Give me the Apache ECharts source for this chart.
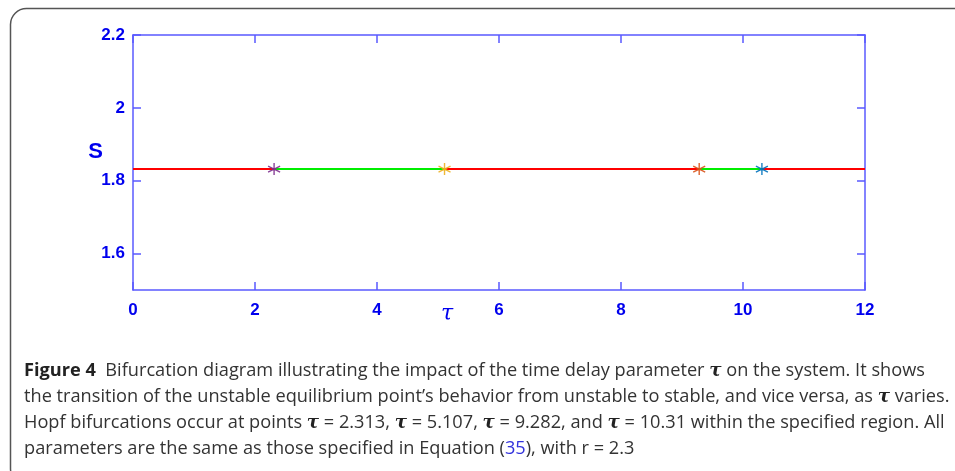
<!DOCTYPE html>
<html>
<head>
<meta charset="utf-8">
<script src="https://cdn.jsdelivr.net/npm/echarts@6/dist/echarts.min.js"></script>
<style>html,body{margin:0;padding:0;background:#fff;}#c{width:955px;height:471px;}</style>
</head>
<body>
<div id="c"></div>
<script>
// ---- data ----
const tauBreaks = [0, 2.313, 5.107, 9.282, 10.31, 12];
const segmentStates = ['unstable', 'stable', 'unstable', 'stable', 'unstable'];
const equilibriumS = 1.832;
const hopfTaus = [2.313, 5.107, 9.282, 10.31];
const xTicks = [0, 2, 4, 6, 8, 10, 12];
const yTicks = [1.6, 1.8, 2, 2.2];
const captionLines = [
  '{b|Figure 4}  Bifurcation diagram illustrating the impact of the time delay parameter {t|τ} on the system. It shows',
  'the transition of the unstable equilibrium point’s behavior from unstable to stable, and vice versa, as {t|τ} varies.',
  'Hopf bifurcations occur at points {t|τ} = 2.313, {t|τ} = 5.107, {t|τ} = 9.282, and {t|τ} = 10.31 within the specified region. All',
  'parameters are the same as those specified in Equation ({l|35}), with r = 2.3'
];

// ---- styles ----
const stateColor = { unstable: '#ff0000', stable: '#00ee00' };
const hopfColors = ['#7e2f8e', '#edb120', '#d95319', '#0072bd'];
const axisBlue = '#5a5aff';
const labelBlue = '#0000ee';
const asterisk = 'path://M0,-1L0,1M-0.866,-0.5L0.866,0.5M-0.866,0.5L0.866,-0.5';

const series = [];
for (let i = 0; i < segmentStates.length; i++) {
  series.push({
    type: 'line',
    xAxisIndex: 0, yAxisIndex: 0,
    data: [[tauBreaks[i], equilibriumS], [tauBreaks[i + 1], equilibriumS]],
    showSymbol: false,
    silent: true,
    lineStyle: { color: stateColor[segmentStates[i]], width: 2 },
    z: 2
  });
}
hopfTaus.forEach((t, i) => {
  series.push({
    type: 'scatter',
    data: [[t, equilibriumS]],
    symbol: asterisk,
    symbolSize: 12,
    itemStyle: { color: hopfColors[i], borderColor: hopfColors[i], borderWidth: 1.4, opacity: 0.9 },
    z: 5
  });
});

const tickLabelStyle = { color: labelBlue, fontFamily: 'Liberation Sans', fontWeight: 'bold', fontSize: 17 };

const graphics = [{
  type: 'rect', left: 8, top: 6, silent: true,
  shape: { width: 1100, height: 476, r: 16 },
  style: { fill: 'none', stroke: '#555', lineWidth: 1.5 }
}];
const capFont = 'Open Sans';
const capSize = 18.2;
captionLines.forEach((line, i) => {
  graphics.push({
    type: 'text', x: 24, y: 371 + i * 26, silent: true,
    style: {
      text: line, verticalAlign: 'middle',
      fontFamily: capFont, fontSize: capSize, fill: '#333',
      rich: {
        b: { fontFamily: capFont, fontWeight: 'bold', fontSize: capSize, fill: '#222' },
        t: { fontFamily: 'DejaVu Serif', fontStyle: 'italic', fontWeight: 'bold', fontSize: capSize, fill: '#222' },
        l: { fontFamily: capFont, fontSize: capSize, fill: '#3333dd' }
      }
    }
  });
});

const chart = echarts.init(document.getElementById('c'), null, { renderer: 'canvas' });
chart.setOption({
  animation: false,
  backgroundColor: '#fff',
  grid: { left: 133, right: 90, top: 35, bottom: 181, containLabel: false },
  xAxis: [{
    type: 'value', min: 0, max: 12, interval: 2, position: 'bottom',
    name: 'τ', nameLocation: 'middle', nameGap: 13, nameMoveOverlap: false,
    nameTextStyle: { color: labelBlue, fontFamily: 'DejaVu Serif', fontStyle: 'italic', fontSize: 22, padding: [0, 104, 0, 0] },
    axisLine: { onZero: false, lineStyle: { color: axisBlue, width: 1.5 } },
    axisTick: { inside: true, length: 8, lineStyle: { color: axisBlue, width: 1.5 } },
    axisLabel: Object.assign({ margin: 12 }, tickLabelStyle),
    splitLine: { show: false }
  }, {
    type: 'value', min: 0, max: 12, interval: 2, position: 'top',
    axisLine: { onZero: false, lineStyle: { color: axisBlue, width: 1.5 } },
    axisTick: { inside: true, length: 8, lineStyle: { color: axisBlue, width: 1.5 } },
    axisLabel: { show: false },
    splitLine: { show: false }
  }],
  yAxis: [{
    type: 'value', min: 1.5, max: 2.2, position: 'left',
    name: 'S', nameLocation: 'middle', nameGap: 30, nameRotate: 0, nameMoveOverlap: false,
    nameTextStyle: { color: labelBlue, fontFamily: 'Liberation Sans', fontWeight: 'bold', fontSize: 22, verticalAlign: 'bottom' },
    axisLine: { onZero: false, lineStyle: { color: axisBlue, width: 1.5 } },
    axisTick: { inside: true, length: 8, customValues: yTicks, lineStyle: { color: axisBlue, width: 1.5 } },
    axisLabel: Object.assign({ margin: 8, customValues: yTicks }, tickLabelStyle),
    splitLine: { show: false }
  }, {
    type: 'value', min: 1.5, max: 2.2, position: 'right',
    axisLine: { onZero: false, lineStyle: { color: axisBlue, width: 1.5 } },
    axisTick: { inside: true, length: 8, customValues: yTicks, lineStyle: { color: axisBlue, width: 1.5 } },
    axisLabel: { show: false },
    splitLine: { show: false }
  }],
  series: series,
  graphic: graphics
});
</script>
</body>
</html>
